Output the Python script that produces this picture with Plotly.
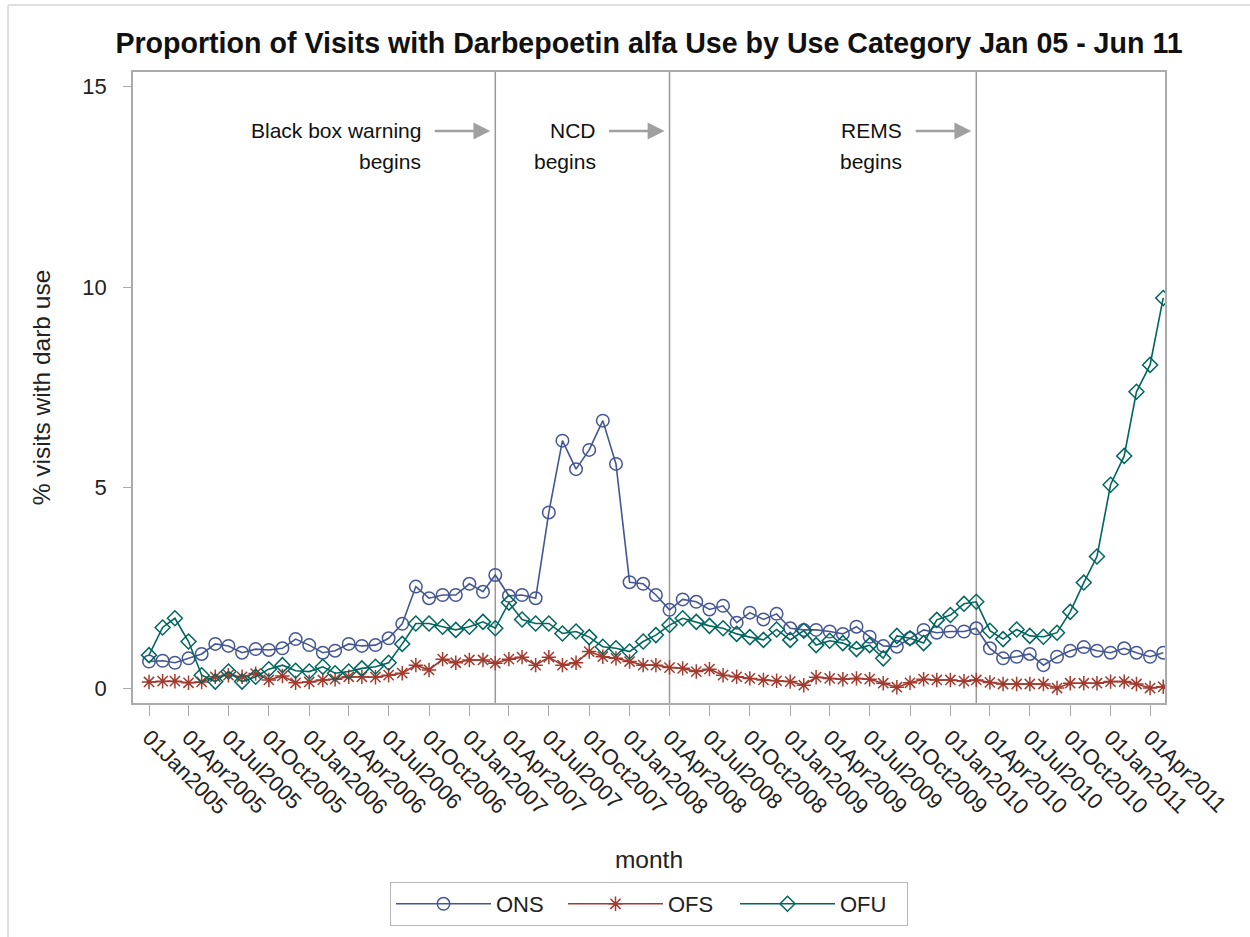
import pandas as pd
import plotly.graph_objects as go

# Monthly proportion (%) of visits with darbepoetin alfa use, Jan 2005 onward
months = pd.date_range("2005-01-01", periods=77, freq="MS")

ons = [0.66, 0.68, 0.63, 0.74, 0.85, 1.10, 1.05, 0.88, 0.97, 0.95, 0.99, 1.22,
       1.07, 0.88, 0.93, 1.10, 1.05, 1.07, 1.24, 1.60, 2.53, 2.24, 2.32, 2.32,
       2.60, 2.40, 2.82, 2.30, 2.32, 2.24, 4.38, 6.17, 5.46, 5.94, 6.67, 5.59,
       2.64, 2.60, 2.32, 1.95, 2.21, 2.15, 1.96, 2.05, 1.63, 1.88, 1.71, 1.85,
       1.49, 1.45, 1.45, 1.41, 1.35, 1.53, 1.28, 1.05, 1.03, 1.24, 1.45, 1.38,
       1.41, 1.41, 1.49, 0.99, 0.74, 0.78, 0.85, 0.57, 0.78, 0.93, 1.02, 0.93,
       0.88, 0.99, 0.88, 0.78, 0.88]

ofs = [0.15, 0.17, 0.17, 0.13, 0.15, 0.28, 0.32, 0.28, 0.36, 0.20, 0.30, 0.13,
       0.15, 0.20, 0.22, 0.28, 0.28, 0.27, 0.32, 0.37, 0.57, 0.45, 0.72, 0.63,
       0.70, 0.70, 0.62, 0.72, 0.77, 0.57, 0.77, 0.57, 0.63, 0.91, 0.78, 0.74,
       0.66, 0.57, 0.57, 0.51, 0.49, 0.41, 0.47, 0.32, 0.28, 0.24, 0.20, 0.18,
       0.16, 0.07, 0.27, 0.24, 0.22, 0.24, 0.22, 0.12, 0.02, 0.13, 0.22, 0.20,
       0.20, 0.17, 0.20, 0.14, 0.10, 0.10, 0.10, 0.10, 0.00, 0.12, 0.12, 0.12,
       0.16, 0.16, 0.10, 0.00, 0.03]

ofu = [0.82, 1.51, 1.74, 1.16, 0.32, 0.16, 0.41, 0.16, 0.28, 0.47, 0.57, 0.43,
       0.41, 0.53, 0.37, 0.41, 0.49, 0.53, 0.63, 1.10, 1.61, 1.61, 1.53, 1.45,
       1.53, 1.65, 1.49, 2.13, 1.71, 1.61, 1.61, 1.36, 1.41, 1.27, 1.03, 0.99,
       0.91, 1.16, 1.32, 1.57, 1.74, 1.65, 1.55, 1.49, 1.35, 1.27, 1.20, 1.46,
       1.20, 1.43, 1.07, 1.18, 1.12, 0.97, 1.07, 0.74, 1.30, 1.24, 1.12, 1.70,
       1.82, 2.10, 2.15, 1.43, 1.22, 1.46, 1.30, 1.28, 1.38, 1.90, 2.63, 3.28,
       5.07, 5.79, 7.39, 8.06, 9.73]

# Quarterly ticks on the month axis
tick_dates = pd.date_range("2005-01-01", "2011-04-01", freq="QS")
tick_labels = [d.strftime("%d%b%Y") for d in tick_dates]
y_ticks = [0, 5, 10, 15]

# Regulatory events marked on the time line
event_dates = ["2007-03-01", "2008-04-01", "2010-03-01"]
event_labels = [["Black box warning", "begins"], ["NCD", "begins"], ["REMS", "begins"]]

FONT = "Liberation Sans, Arial, sans-serif"
FRAME = "#ababab"
REF = "#9a9a9a"

series = [
    ("ONS", ons, "#445694", "circle-open", 12.5),
    ("OFS", ofs, "#A23A2E", "asterisk-open", 12),
    ("OFU", ofu, "#01665E", "diamond-open", 11.5),
]

fig = go.Figure()
for name, vals, color, symbol, size in series:
    fig.add_trace(go.Scatter(
        x=months, y=vals, name=name, mode="lines+markers",
        line=dict(color=color, width=1.6),
        marker=dict(symbol=symbol, size=size, color=color,
                    line=dict(color=color, width=1.5)),
    ))

shapes = []
for d in event_dates:
    shapes.append(dict(type="line", xref="x", yref="paper", x0=d, x1=d, y0=0, y1=1,
                       line=dict(color=REF, width=1.5), layer="below"))

# light page border along the top and left edges
shapes.append(dict(type="line", xref="paper", yref="paper", x0=-0.1211, x1=1.1,
                   y0=1.1062, y1=1.1062, line=dict(color="#d6d6d6", width=1.5)))
shapes.append(dict(type="line", xref="paper", yref="paper", x0=-0.1211, x1=-0.1211,
                   y0=1.1062, y1=-0.4, line=dict(color="#d6d6d6", width=1.5)))

annotations = []
for d, (line1, line2) in zip(event_dates, event_labels):
    # arrow pointing at the event line
    annotations.append(dict(x=d, y=0.9065, xref="x", yref="paper", text="",
                            showarrow=True, ax=-57, ay=0, xshift=-5,
                            arrowhead=2, arrowsize=1.35, arrowwidth=2.5,
                            arrowcolor="#a0a0a0"))
    for txt, yy in ((line1, 0.9065), (line2, 0.8574)):
        annotations.append(dict(x=d, y=yy, xref="x", yref="paper", text=txt,
                                showarrow=False, xanchor="right", yanchor="middle",
                                xshift=-72, font=dict(family=FONT, size=21, color="#111")))

fig.update_layout(
    width=1250, height=937,
    margin=dict(l=133, r=85, t=72, b=234, autoexpand=False),
    paper_bgcolor="white", plot_bgcolor="white",
    font=dict(family=FONT, color="#222"),
    title=dict(text="<b>Proportion of Visits with Darbepoetin alfa Use by Use Category Jan 05 - Jun 11</b>",
               x=0.5, xref="paper", xanchor="center", y=0.954, yanchor="middle",
               font=dict(family=FONT, size=28.6, color="#111")),
    xaxis=dict(type="date", range=["2004-11-25 12:00", "2011-05-05"],
               tickmode="array", tickvals=tick_dates, ticktext=tick_labels,
               tickangle=45, ticks="outside", ticklen=11, tickcolor=FRAME, tickwidth=1.2,
               showline=True, linecolor=FRAME, linewidth=1.5, mirror=True,
               showgrid=False, zeroline=False,
               tickfont=dict(family=FONT, size=22, color="#222"),
               title=dict(text="month", standoff=32, font=dict(family=FONT, size=24.5, color="#222"))),
    yaxis=dict(range=[-0.374, 15.367], tickmode="array", tickvals=y_ticks,
               ticks="outside", ticklen=8, tickcolor=FRAME, tickwidth=1.2,
               showline=True, linecolor=FRAME, linewidth=1.5, mirror=True,
               showgrid=False, zeroline=False, ticklabelstandoff=12,
               tickfont=dict(family=FONT, size=22, color="#222"),
               title=dict(text="% visits with darb use", standoff=25,
                          font=dict(family=FONT, size=24.5, color="#222"))),
    legend=dict(orientation="h", x=0.5, xanchor="center", yref="container",
                y=0.0587, yanchor="top",
                bgcolor="white", bordercolor="#b5b5b5", borderwidth=1,
                itemwidth=95, entrywidth=62, font=dict(family=FONT, size=22, color="#222")),
    shapes=shapes,
    annotations=annotations,
    showlegend=True,
)

fig.write_html("out.html")
